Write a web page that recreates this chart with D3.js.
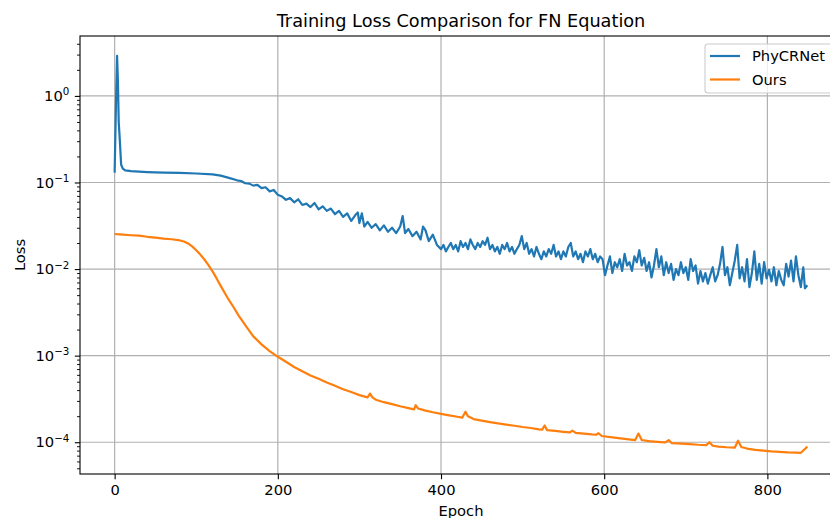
<!DOCTYPE html>
<html>
<head>
<meta charset="utf-8">
<script src="https://cdn.jsdelivr.net/npm/d3@7"></script>
<style>
body { margin: 0; background: #fff; }
svg { display: block; font-family: "DejaVu Sans", sans-serif; }
</style>
</head>
<body>
<script>
var seriesNames = ["PhyCRNet", "Ours"];
var seriesColors = ["#1f77b4", "#ff7f0e"];

var phyEpochs = [0,2,3,4,5,6,8,10,13,20,40,60,80,100,120,130,140,150,155,160,165,170,175,180,185,190,195,200,205,210,215,220,225,230,235,240,245,250,255,260,265,270,275,280,285,290,295,298,300,303,306,310,315,320,325,330,335,340,345,350,353,356,360,365,370,375,378,381,385,390,395,
    400,403,406,409,412,415,418,421,424,427,430,433,436,439,442,445,448,451,454,457,460,463,466,469,472,475,478,481,484,487,490,493,496,499,502,505,508,511,514,517,520,523,526,529,532,535,538,541,544,547,550,553,556,559,562,565,568,571,574,577,580,583,586,589,592,595,598,
    601,604,607,610,613,616,619,622,625,628,631,634,637,640,643,646,649,652,655,658,661,664,667,670,673,676,679,682,685,688,691,694,697,700,703,706,709,712,715,718,721,724,727,730,733,736,739,742,745,748,751,754,757,760,763,766,769,772,775,778,781,784,787,790,793,796,799,802,805,808,811,814,817,820,823,826,829,832,835,838,841,844,846,849];
var phyLoss = [0.13,1.2,2.9,1.5,0.5,0.35,0.16,0.145,0.138,0.135,0.132,0.130,0.129,0.127,0.124,0.12,0.113,0.106,0.104,0.098,0.097,0.092,0.094,0.086,0.088,0.079,0.082,0.072,0.069,0.063,0.066,0.059,0.064,0.055,0.057,0.052,0.058,0.049,0.053,0.047,0.050,0.043,0.047,0.040,0.044,0.036,0.042,0.045,0.034,0.044,0.031,0.035,0.030,0.033,0.028,0.032,0.027,0.030,0.026,0.031,0.041,0.026,0.029,0.024,0.027,0.022,0.031,0.028,0.021,0.025,0.019,
    0.017,0.019,0.016,0.018,0.020,0.017,0.019,0.016,0.021,0.018,0.020,0.017,0.022,0.019,0.017,0.020,0.018,0.021,0.019,0.023,0.017,0.019,0.016,0.018,0.015,0.019,0.017,0.020,0.016,0.018,0.015,0.017,0.019,0.024,0.017,0.020,0.015,0.017,0.014,0.018,0.015,0.013,0.016,0.014,0.017,0.015,0.019,0.014,0.016,0.013,0.016,0.014,0.018,0.020,0.014,0.016,0.013,0.015,0.012,0.016,0.014,0.017,0.013,0.015,0.012,0.014,0.013,
    0.0085,0.011,0.014,0.009,0.012,0.0105,0.013,0.0095,0.015,0.011,0.012,0.0095,0.014,0.012,0.0165,0.011,0.0135,0.0095,0.012,0.008,0.011,0.017,0.0105,0.014,0.0085,0.012,0.009,0.0115,0.0075,0.010,0.0085,0.012,0.009,0.0105,0.0075,0.013,0.0095,0.011,0.0068,0.0095,0.0072,0.009,0.0068,0.0085,0.0105,0.0072,0.0085,0.0115,0.018,0.0085,0.0105,0.0065,0.009,0.0125,0.019,0.0078,0.0105,0.0072,0.013,0.0062,0.009,0.016,0.0075,0.0115,0.0068,0.012,0.0078,0.0098,0.0072,0.0105,0.0065,0.0095,0.0075,0.0065,0.0115,0.0082,0.0125,0.0072,0.014,0.0085,0.0062,0.0105,0.006,0.0065];

var oursEpochs = [0,10,20,30,40,50,60,70,80,85,90,95,100,105,110,115,120,125,130,135,140,146,152,158,164,170,180,190,200,210,220,230,240,250,260,270,280,290,300,310,313,316,320,330,340,350,360,367,369,372,380,390,400,410,420,426,430,433,440,450,460,470,480,490,500,510,520,524,527,530,540,550,558,561,565,575,585,590,593,597,610,620,630,638,642,646,655,665,675,679,683,695,705,715,725,729,733,740,750,760,764,768,775,785,795,805,815,825,835,841,845,849];
var oursLoss = [0.0254,0.0250,0.0246,0.0243,0.0236,0.0231,0.0225,0.0221,0.0214,0.0208,0.0198,0.0183,0.0165,0.0147,0.0129,0.0111,0.0094,0.0078,0.0064,0.0053,0.0044,0.0036,0.0029,0.0024,0.0020,0.00167,0.00135,0.00113,0.00097,0.00085,0.00074,0.00066,0.00059,0.00054,0.00049,0.00045,0.00041,0.00038,0.00035,0.00033,0.000365,0.00033,0.00031,0.00029,0.000275,0.00026,0.000248,0.00024,0.000268,0.000245,0.000233,0.000222,0.000213,0.000204,0.000197,0.000192,0.000225,0.0002,0.000185,0.000178,0.000171,0.000165,0.00016,0.000155,0.00015,0.000146,0.000141,0.00014,0.000156,0.000138,0.000135,0.000132,0.00013,0.000136,0.000128,0.000126,0.000123,0.000122,0.000127,0.000118,0.000114,0.000111,0.000108,0.000106,0.000126,0.000106,0.000103,0.000101,0.0000995,0.000106,0.0000975,0.0000965,0.000095,0.0000935,0.0000925,0.0001,0.000091,0.000089,0.0000875,0.0000865,0.000104,0.000088,0.0000845,0.0000815,0.00008,0.0000785,0.0000775,0.0000765,0.000076,0.0000755,0.000082,0.000089];

var xTicks = [0, 200, 400, 600, 800];
var yTicks = [1e-4, 1e-3, 1e-2, 1e-1, 1];
var yExponents = ["\u22124", "\u22123", "\u22122", "\u22121", "0"];

var xScale = d3.scaleLinear().domain([-42.45, 891.45]).range([80, 842]);
var yScale = d3.scaleLog().domain([Math.pow(10, -4.367), Math.pow(10, 0.692)]).range([474, 36]);

var toPoints = function(epochs, loss){
    return epochs.map(function(e, i){ return {x: e, y: loss[i]}; });
}

var line = d3.line()
    .x(function(d){ return xScale(d.x); })
    .y(function(d){ return yScale(d.y); });

var loadGrid = function(svg){
    svg.append("g").selectAll("line").data(xTicks).enter().append("line")
        .attr("x1", function(d){ return xScale(d); }).attr("x2", function(d){ return xScale(d); })
        .attr("y1", 36).attr("y2", 474)
        .attr("stroke", "#b0b0b0").attr("stroke-width", 1.2);
    svg.append("g").selectAll("line").data(yTicks).enter().append("line")
        .attr("y1", function(d){ return yScale(d); }).attr("y2", function(d){ return yScale(d); })
        .attr("x1", 80).attr("x2", 842)
        .attr("stroke", "#b0b0b0").attr("stroke-width", 1.2);
}

var loadAxis = function(svg){
    var xAxis = d3.axisBottom(xScale).tickValues(xTicks).tickSize(5.2).tickPadding(5.5).tickFormat(d3.format("d"));
    var yAxis = d3.axisLeft(yScale).tickValues(yTicks).tickSize(5.2).tickPadding(5.5);

    var minors = [];
    [-5, -4, -3, -2, -1, 0].forEach(function(p){
        for (var m = 2; m <= 9; m++) {
            var v = m * Math.pow(10, p);
            if (v >= yScale.domain()[0] && v <= yScale.domain()[1]) minors.push(v);
        }
    });
    var yMinor = d3.axisLeft(yScale).tickValues(minors).tickSize(3).tickFormat("");

    var gx = svg.append("g").attr("transform", "translate(0,474)").call(xAxis);
    var gy = svg.append("g").attr("transform", "translate(80,0)").call(yAxis);
    var gm = svg.append("g").attr("transform", "translate(80,0)").call(yMinor);

    [gx, gy, gm].forEach(function(g){
        g.select(".domain").remove();
        g.selectAll(".tick line").attr("stroke", "#000").attr("stroke-width", 1.1);
        g.selectAll(".tick text").attr("fill", "#000").attr("font-size", 14.7).attr("font-family", "DejaVu Sans");
    });
    gm.selectAll(".tick line").attr("stroke-width", 0.9);

    gy.selectAll(".tick text").each(function(d, i){
        var t = d3.select(this);
        t.text(null);
        t.append("tspan").text("10");
        t.append("tspan").attr("dy", "-0.55em").attr("font-size", "10.3px").text(yExponents[i]);
    });

    svg.append("rect")
        .attr("x", 80).attr("y", 36).attr("width", 762).attr("height", 438)
        .attr("fill", "none").attr("stroke", "#000").attr("stroke-width", 1.1);
}

var loadLines = function(svg){
    svg.append("path").datum(toPoints(phyEpochs, phyLoss))
        .attr("fill", "none").attr("stroke", seriesColors[0]).attr("stroke-width", 2.2)
        .attr("stroke-linejoin", "round").attr("d", line);
    svg.append("path").datum(toPoints(oursEpochs, oursLoss))
        .attr("fill", "none").attr("stroke", seriesColors[1]).attr("stroke-width", 2.2)
        .attr("stroke-linejoin", "round").attr("d", line);
}

var loadLabels = function(svg){
    svg.append("text").attr("x", 461).attr("y", 27).attr("text-anchor", "middle")
        .attr("font-size", 17.7).text("Training Loss Comparison for FN Equation");
    svg.append("text").attr("x", 461).attr("y", 516).attr("text-anchor", "middle")
        .attr("font-size", 14.7).text("Epoch");
    svg.append("text").attr("transform", "translate(25,255) rotate(-90)").attr("text-anchor", "middle")
        .attr("font-size", 14.7).text("Loss");
}

var loadLegend = function(svg){
    var g = svg.append("g");
    g.append("rect").attr("x", 705).attr("y", 44).attr("width", 130).attr("height", 49)
        .attr("rx", 3).attr("fill", "#fff").attr("fill-opacity", 0.8)
        .attr("stroke", "#cccccc").attr("stroke-width", 1.1);
    seriesNames.forEach(function(name, i){
        var y = 56 + i * 23.5;
        g.append("line").attr("x1", 710).attr("x2", 740).attr("y1", y).attr("y2", y)
            .attr("stroke", seriesColors[i]).attr("stroke-width", 2.2);
        g.append("text").attr("x", 752).attr("y", y + 5).attr("font-size", 14.7).text(name);
    });
}

var loadGraph = function(){
    var svg = d3.select("body").append("svg")
        .attr("width", 830)
        .attr("height", 518);
    loadGrid(svg);
    loadLines(svg);
    loadAxis(svg);
    loadLegend(svg);
    loadLabels(svg);
}

window.onload = loadGraph;
</script>
</body>
</html>
